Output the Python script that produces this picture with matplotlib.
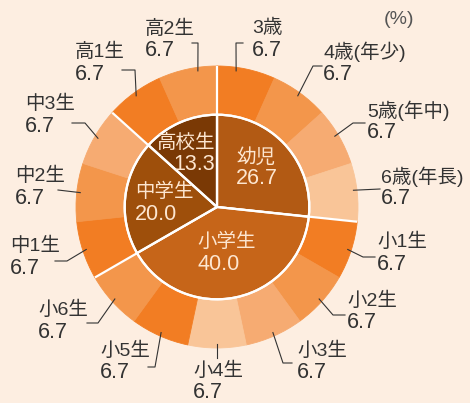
import numpy as np
import matplotlib
matplotlib.use("Agg")
import matplotlib.pyplot as plt
from matplotlib.patches import Circle

# data
groups = ["幼児", "小学生", "中学生", "高校生"]
group_vals = [26.7, 40.0, 20.0, 13.3]
ages = ["3歳", "4歳(年少)", "5歳(年中)", "6歳(年長)",
        "小1生", "小2生", "小3生", "小4生", "小5生", "小6生",
        "中1生", "中2生", "中3生", "高1生", "高2生"]
age_vals = [6.7, 6.7, 6.7, 6.7, 6.7, 6.7, 6.7, 6.7, 6.7, 6.7, 6.7, 6.7, 6.7, 6.7, 6.7]
age_group = [0, 0, 0, 0, 1, 1, 1, 1, 1, 1, 2, 2, 2, 3, 3]

# styles
BG = "#fdeee1"
group_colors = ["#b25a14", "#c66519", "#9e4f0b", "#7a3905"]
shade = ["#f27d23", "#f3964b", "#f6ab72", "#f9c598"]
age_shade = [0, 1, 2, 3, 0, 1, 2, 3, 0, 1, 0, 1, 2, 0, 1]
TXT = "#333333"
IN_TXT = "#fde6d0"
NAME_FONT = ["Liberation Sans", "Noto Sans CJK JP"]
NUM_FONT = ["Liberation Sans", "DejaVu Sans"]
NAME_SIZE = 14
NUM_SIZE = 15.5

W, H = 470, 403
CX, CY, R = 217, 207, 141
R_IN = 92.3 / R


def px(x, y):
    return (x - CX) / R, (CY - y) / R


fig = plt.figure(figsize=(W / 100, H / 100), dpi=100)
fig.patch.set_facecolor(BG)
ax = fig.add_axes([0, 0, 1, 1])
ax.set_facecolor(BG)
ax.set_aspect("equal")
ax.axis("off")

# outer ring
ocolors = [shade[s] for s in age_shade]
outer, _ = ax.pie(age_vals, radius=1.0, startangle=90, counterclock=False,
                  colors=ocolors,
                  wedgeprops=dict(width=1 - R_IN, linewidth=0.6))
for w, c in zip(outer, ocolors):
    w.set_edgecolor(c)

# inner pie
inner, _ = ax.pie(group_vals, radius=R_IN, startangle=90, counterclock=False,
                  colors=group_colors,
                  wedgeprops=dict(edgecolor="white", linewidth=1.6))
ax.set_xlim(-CX / R, (W - CX) / R)
ax.set_ylim(-(H - CY) / R, CY / R)

# white separators between groups through the outer ring
for i, w in enumerate(outer):
    if i == 0 or age_group[i] != age_group[i - 1]:
        a = np.deg2rad(w.theta2)
        ax.plot([0, np.cos(a)], [0, np.sin(a)], color="white", lw=1.6,
                solid_capstyle="butt", zorder=3)
ax.add_patch(Circle((0, 0), R_IN, fill=False, edgecolor="white", lw=1.6, zorder=3))

# leader/label layout in pixels: angle nudge, elbow, end, text left x, name centre y
layout = [
    (4, (236, 43), (243, 43), 252, 28),
    (0, (313, 66), (322, 66), 323, 52),
    (1, (353, 123), (365, 123), 367, 111),
    (1, None, (380, 189), 381, 177),
    (0, (363, 257), (375, 257), 377, 242),
    (0, (333, 315), (345, 315), 347, 301),
    (0, (283, 363), (292, 363), 297, 351),
    (0, None, (217, 358), 193, 371),
    (0, (155, 367), (148, 367), 100, 351),
    (0, (98, 323), (87, 323), 38, 310),
    (0, (67, 261), (55, 261), 10, 246),
    (0, None, (58, 190), 15, 176),
    (0, (85, 123), (72, 123), 25, 104),
    (0, (135, 70), (122, 70), 75, 52),
    (-4, (198, 43), (192, 43), 145, 29),
]

for w, name, val, (nudge, elbow, end, tx, ty) in zip(outer, ages, age_vals, layout):
    mid = np.deg2rad((w.theta1 + w.theta2) / 2 + nudge)
    r0 = 0.975
    xs = [r0 * np.cos(mid)]
    ys = [r0 * np.sin(mid)]
    for p in (elbow, end):
        if p is not None:
            x, y = px(*p)
            xs.append(x)
            ys.append(y)
    ax.plot(xs, ys, color=TXT, lw=0.8, zorder=4)
    x, y = px(tx, ty)
    ax.text(x, y, name, family=NAME_FONT, fontsize=NAME_SIZE, color=TXT,
            ha="left", va="center")
    x, y = px(tx, ty + 22)
    ax.text(x, y, f"{val:.1f}", family=NUM_FONT, fontsize=NUM_SIZE, color=TXT,
            ha="left", va="center")

# inner labels: anchor x, name centre y, alignment
in_layout = [(236, 157, "left"), (197, 242, "left"), (135, 192, "left"), (215, 143, "right")]
for name, val, (tx, ty, ha) in zip(groups, group_vals, in_layout):
    x, y = px(tx, ty)
    ax.text(x, y, name, family=NAME_FONT, fontsize=NAME_SIZE, color=IN_TXT,
            ha=ha, va="center", zorder=5)
    x, y = px(tx, ty + 22)
    ax.text(x, y, f"{val:.1f}", family=NUM_FONT, fontsize=NUM_SIZE, color=IN_TXT,
            ha=ha, va="center", zorder=5)

x, y = px(384, 20)
ax.text(x, y, "(%)", family=NUM_FONT, fontsize=14, color="#555555",
        ha="left", va="center")

fig.savefig("out.png", dpi=100, facecolor=BG)
